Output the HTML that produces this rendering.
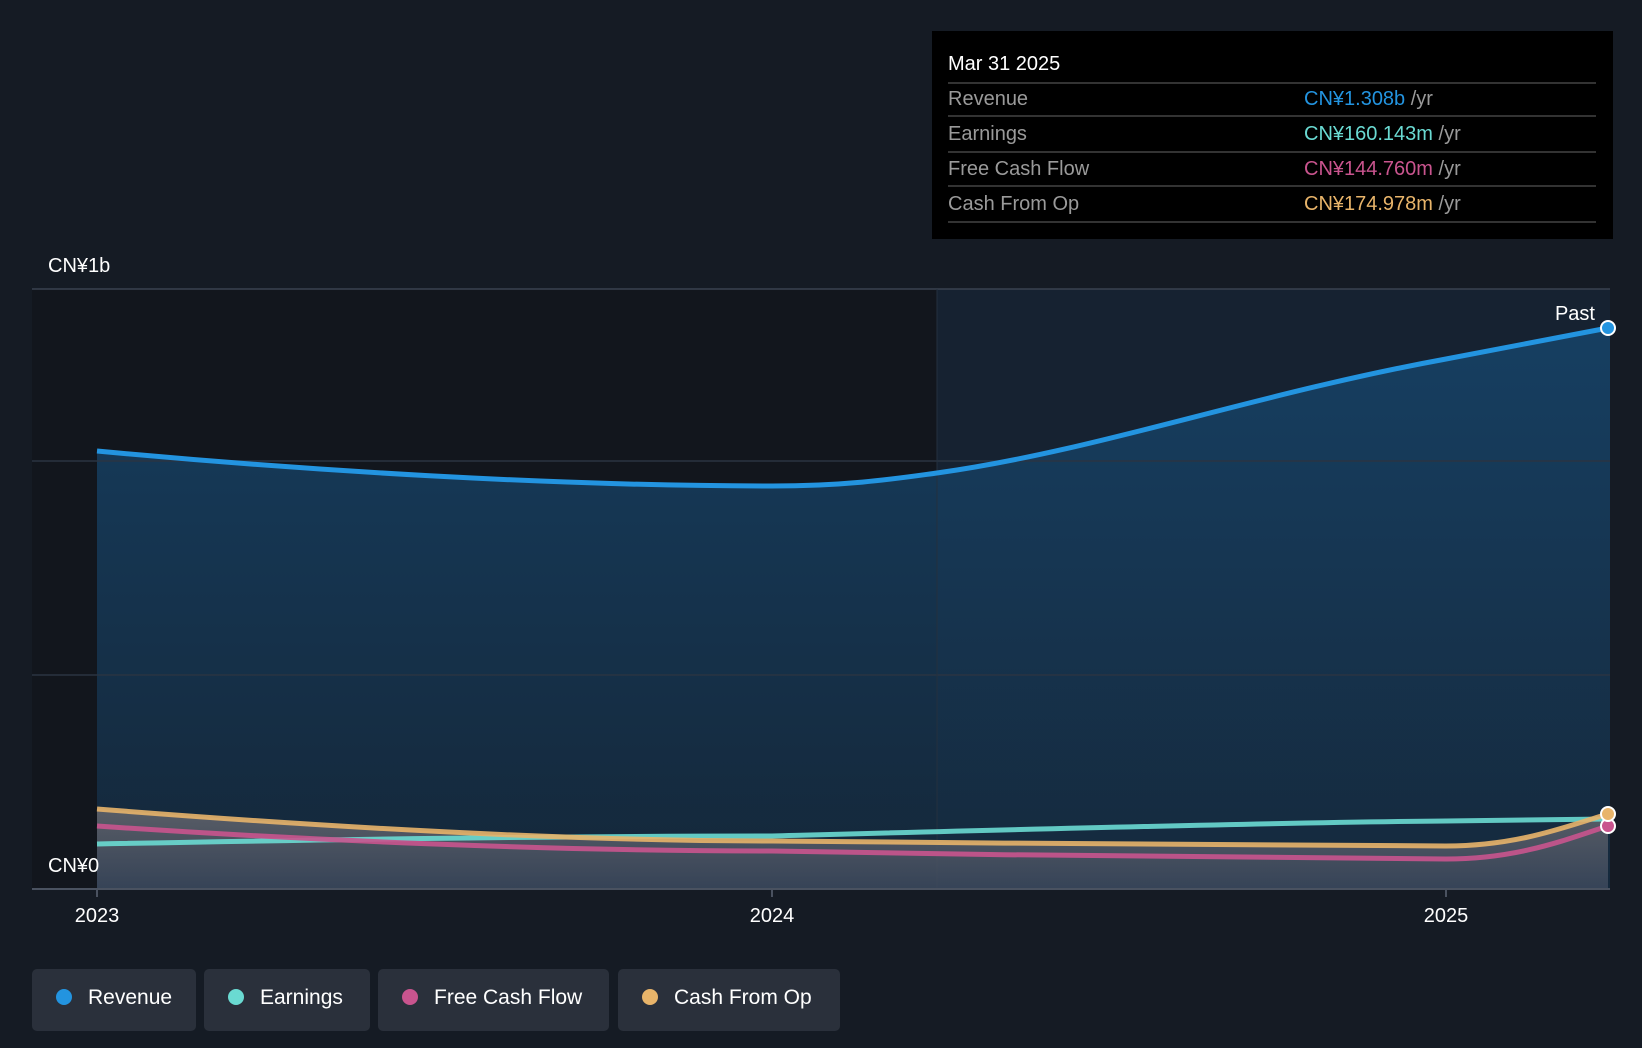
<!DOCTYPE html>
<html><head><meta charset="utf-8"><style>
body{margin:0;background:#151b24;width:1642px;height:1048px;overflow:hidden;font-family:"Liberation Sans",sans-serif}
</style></head><body>
<svg width="1642" height="1048" xmlns="http://www.w3.org/2000/svg" style="position:absolute;left:0;top:0">
<defs>
<linearGradient id="rev" x1="0" y1="0" x2="0" y2="1"><stop offset="0" stop-color="#16446a"/><stop offset="1" stop-color="#152a3e"/></linearGradient>
<linearGradient id="low" x1="0" y1="0" x2="0" y2="1"><stop offset="0" stop-color="#6a6a70" stop-opacity="0.8"/><stop offset="1" stop-color="#3e4a5e" stop-opacity="0.8"/></linearGradient>
</defs>
<rect x="0" y="0" width="1642" height="1048" fill="#151b24"/>
<rect x="32" y="289" width="905" height="600" fill="#12161d"/>
<rect x="937" y="289" width="673" height="600" fill="#162231"/>
<path d="M97,451 C300,470 550,486 772,486 C850,486 900,478 937,473 C1100,450 1250,395 1446,359 L1608,328 L1610,328 L1610,889 L97,889 Z" fill="url(#rev)" opacity="0.85"/>
<line x1="32" y1="289" x2="1610" y2="289" stroke="#3a4250" stroke-width="1.5"/>
<line x1="32" y1="461" x2="1610" y2="461" stroke="#2a3442" stroke-width="1.5"/>
<line x1="32" y1="675" x2="1610" y2="675" stroke="#2a3442" stroke-width="1.5"/>
<line x1="937" y1="289" x2="937" y2="889" stroke="#24303e" stroke-width="1"/>
<path d="M97,809 C300,825 550,841 772,841 C1000,843 1300,846 1446,846 C1520,846 1570,825 1608,814 L1608,889 L97,889 Z" fill="url(#low)"/>
<path d="M97,844 C300,840 550,836 772,836 C1000,830 1300,822 1446,821 L1608,819" fill="none" stroke="#6adad2" stroke-width="5" opacity="0.9"/>
<path d="M97,826 C300,840 550,851 772,851 C1000,855 1300,859 1446,859 C1520,859 1570,838 1608,826" fill="none" stroke="#c9548e" stroke-width="5" opacity="0.9"/>
<path d="M97,809 C300,825 550,841 772,841 C1000,843 1300,846 1446,846 C1520,846 1570,825 1608,814" fill="none" stroke="#e8b46a" stroke-width="5" opacity="0.9"/>
<path d="M97,451 C300,470 550,486 772,486 C850,486 900,478 937,473 C1100,450 1250,395 1446,359 L1608,328" fill="none" stroke="#2394e0" stroke-width="5"/>
<circle cx="1608" cy="328" r="7" fill="#2394e0" stroke="#fff" stroke-width="2"/>
<circle cx="1608" cy="826" r="7" fill="#c9548e" stroke="#fff" stroke-width="2"/>
<circle cx="1608" cy="814" r="7" fill="#e8b46a" stroke="#fff" stroke-width="2"/>
<line x1="32" y1="889" x2="1610" y2="889" stroke="#4a5260" stroke-width="2"/>
<line x1="97" y1="889" x2="97" y2="897" stroke="#4a5260" stroke-width="2"/>
<line x1="772" y1="889" x2="772" y2="897" stroke="#4a5260" stroke-width="2"/>
<line x1="1446" y1="889" x2="1446" y2="897" stroke="#4a5260" stroke-width="2"/>
<g font-family="Liberation Sans, sans-serif" fill="#fff" font-size="20">
<text x="48" y="272">CN¥1b</text>
<text x="48" y="872">CN¥0</text>
<text x="1595" y="320" text-anchor="end">Past</text>
<text x="97" y="922" text-anchor="middle">2023</text>
<text x="772" y="922" text-anchor="middle">2024</text>
<text x="1446" y="922" text-anchor="middle">2025</text>
</g>
<rect x="932" y="31" width="681" height="208" fill="#000"/>
<g font-family="Liberation Sans, sans-serif" font-size="20">
<text x="948" y="70" fill="#fff">Mar 31 2025</text>
<g stroke="#444" stroke-width="1.5">
<line x1="948" y1="83" x2="1596" y2="83"/><line x1="948" y1="116" x2="1596" y2="116"/><line x1="948" y1="152" x2="1596" y2="152"/><line x1="948" y1="186" x2="1596" y2="186"/><line x1="948" y1="222" x2="1596" y2="222"/>
</g>
<text x="948" y="105" fill="#9a9a9a">Revenue</text>
<text x="948" y="140" fill="#9a9a9a">Earnings</text>
<text x="948" y="175" fill="#9a9a9a">Free Cash Flow</text>
<text x="948" y="210" fill="#9a9a9a">Cash From Op</text>
<text x="1304" y="105"><tspan fill="#2394e0">CN¥1.308b</tspan><tspan fill="#9a9a9a"> /yr</tspan></text>
<text x="1304" y="140"><tspan fill="#6adad2">CN¥160.143m</tspan><tspan fill="#9a9a9a"> /yr</tspan></text>
<text x="1304" y="175"><tspan fill="#c9548e">CN¥144.760m</tspan><tspan fill="#9a9a9a"> /yr</tspan></text>
<text x="1304" y="210"><tspan fill="#e8b46a">CN¥174.978m</tspan><tspan fill="#9a9a9a"> /yr</tspan></text>
</g>
<g font-family="Liberation Sans, sans-serif" font-size="21" fill="#fff">
<rect x="32" y="969" width="164" height="62" rx="5" fill="#2a303b"/>
<circle cx="64" cy="997" r="8" fill="#2394e0"/><text x="88" y="1004">Revenue</text>
<rect x="204" y="969" width="166" height="62" rx="5" fill="#2a303b"/>
<circle cx="236" cy="997" r="8" fill="#6adad2"/><text x="260" y="1004">Earnings</text>
<rect x="378" y="969" width="231" height="62" rx="5" fill="#2a303b"/>
<circle cx="410" cy="997" r="8" fill="#c9548e"/><text x="434" y="1004">Free Cash Flow</text>
<rect x="618" y="969" width="222" height="62" rx="5" fill="#2a303b"/>
<circle cx="650" cy="997" r="8" fill="#e8b46a"/><text x="674" y="1004">Cash From Op</text>
</g>
</svg>
</body></html>
